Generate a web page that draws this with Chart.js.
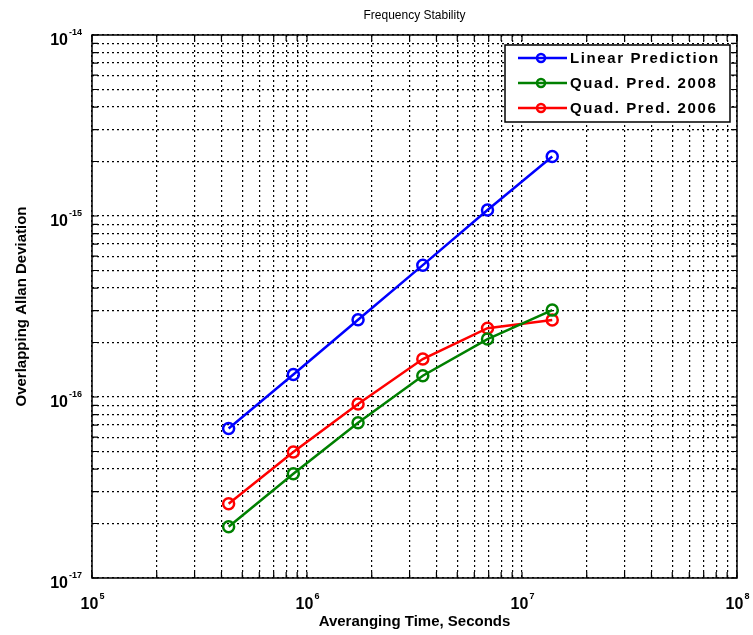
<!DOCTYPE html>
<html>
<head>
<meta charset="utf-8">
<script src="https://cdn.jsdelivr.net/npm/chart.js@4.4.1/dist/chart.umd.min.js"></script>
<style>
  html, body { margin: 0; padding: 0; background: #fff; }
  #wrap { width: 753px; height: 635px; }
</style>
</head>
<body>
<div id="wrap"><canvas id="stabilityChart" width="753" height="635"></canvas></div>
<script>
// Averaging times: 5, 10, 20, 40, 80, 160 days in seconds
const tauSeconds = [432000, 864000, 1728000, 3456000, 6912000, 13824000];

const linearPrediction = [6.7e-17, 1.33e-16, 2.67e-16, 5.35e-16, 1.08e-15, 2.13e-15];
const quadPred2008 = [1.92e-17, 3.77e-17, 7.2e-17, 1.31e-16, 2.09e-16, 3.02e-16];
const quadPred2006 = [2.57e-17, 4.97e-17, 9.15e-17, 1.62e-16, 2.4e-16, 2.66e-16];

const seriesNames = ['Linear Prediction', 'Quad. Pred. 2008', 'Quad. Pred. 2006'];
const seriesColors = ['#0000ff', '#008000', '#ff0000'];

const xDecades = [5, 6, 7, 8];
const yDecades = [-17, -16, -15, -14];

// 1..9 x 10^n ticks for every decade
function logTicks(decades) {
    const out = [];
    for (let i = 0; i < decades.length - 1; i++) {
        for (let m = 1; m < 10; m++) out.push({ value: m * Math.pow(10, decades[i]) });
    }
    out.push({ value: Math.pow(10, decades[decades.length - 1]) });
    return out;
}

function drawPow(ctx, x, y, exp, align) {
    const base = 'bold 16px "Liberation Sans", Arial, sans-serif';
    const small = 'bold 9px "Liberation Sans", Arial, sans-serif';
    ctx.font = base;
    const w1 = ctx.measureText('10').width;
    ctx.font = small;
    const es = String(exp);
    const w2 = ctx.measureText(es).width;
    let x0 = x;
    if (align === 'center') x0 = x - (w1 + w2) / 2;
    if (align === 'right') x0 = x - (w1 + w2 + 1);
    ctx.textAlign = 'left';
    ctx.textBaseline = 'alphabetic';
    ctx.font = base;
    ctx.fillText('10', x0, y);
    ctx.font = small;
    ctx.fillText(es, x0 + w1 + 1, y - 10);
}

const frame = {
    id: 'matlabFrame',
    afterDraw(chart) {
        const ctx = chart.ctx;
        const a = chart.chartArea;
        const xs = chart.scales.x, ys = chart.scales.y;
        ctx.save();
        ctx.fillStyle = '#000';
        ctx.strokeStyle = '#000';

        // border box
        ctx.lineWidth = 1.5;
        ctx.strokeRect(a.left, a.top, a.right - a.left, a.bottom - a.top);

        // inward tick marks
        ctx.lineWidth = 1.2;
        ctx.beginPath();
        xs.ticks.forEach(t => {
            const px = xs.getPixelForValue(t.value);
            ctx.moveTo(px, a.bottom); ctx.lineTo(px, a.bottom - 6);
            ctx.moveTo(px, a.top); ctx.lineTo(px, a.top + 6);
        });
        ys.ticks.forEach(t => {
            const py = ys.getPixelForValue(t.value);
            ctx.moveTo(a.left, py); ctx.lineTo(a.left + 6, py);
            ctx.moveTo(a.right, py); ctx.lineTo(a.right - 6, py);
        });
        ctx.stroke();

        // tick labels
        xDecades.forEach(d => {
            drawPow(ctx, xs.getPixelForValue(Math.pow(10, d)), a.bottom + 31, d, 'center');
        });
        yDecades.forEach(d => {
            drawPow(ctx, a.left - 10, ys.getPixelForValue(Math.pow(10, d)) + 10, d, 'right');
        });

        // title and axis titles
        ctx.textAlign = 'center';
        ctx.textBaseline = 'middle';
        ctx.font = '12px "Liberation Sans Narrow", "Liberation Sans", Arial, sans-serif';
        ctx.fillText('Frequency Stability', (a.left + a.right) / 2, 16);
        ctx.font = 'bold 15px "Liberation Sans", Arial, sans-serif';
        ctx.fillText('Averanging Time, Seconds', (a.left + a.right) / 2, 622);
        ctx.save();
        ctx.translate(22, (a.top + a.bottom) / 2);
        ctx.rotate(-Math.PI / 2);
        ctx.fillText('Overlapping Allan Deviation', 0, 0);
        ctx.restore();

        // legend box
        const bx = 505, by = 45, bw = 225, bh = 77;
        ctx.fillStyle = '#fff';
        ctx.fillRect(bx, by, bw, bh);
        ctx.lineWidth = 1.5;
        ctx.strokeRect(bx, by, bw, bh);
        seriesNames.forEach((name, i) => {
            const ly = 58 + i * 25;
            ctx.strokeStyle = seriesColors[i];
            ctx.lineWidth = 2.5;
            ctx.beginPath();
            ctx.moveTo(518, ly); ctx.lineTo(567, ly);
            ctx.stroke();
            ctx.beginPath();
            ctx.arc(541, ly, 4, 0, Math.PI * 2);
            ctx.stroke();
            ctx.fillStyle = '#000';
            ctx.font = 'bold 15px "Liberation Sans", Arial, sans-serif';
            ctx.textAlign = 'left';
            ctx.textBaseline = 'middle';
            ctx.letterSpacing = '1.6px';
            ctx.fillText(name, 570, ly + 1);
            ctx.letterSpacing = '0px';
        });
        ctx.restore();
    }
};

const gridStyle = {
    color: '#000',
    lineWidth: 1.2,
    drawTicks: false
};

new Chart(document.getElementById('stabilityChart'), {
    type: 'line',
    data: {
        datasets: [linearPrediction, quadPred2008, quadPred2006].map((vals, i) => ({
            label: seriesNames[i],
            data: tauSeconds.map((t, k) => ({ x: t, y: vals[k] })),
            borderColor: seriesColors[i],
            backgroundColor: 'rgba(0,0,0,0)',
            borderWidth: 2.5,
            pointRadius: 5.5,
            pointBorderWidth: 2.5,
            pointBackgroundColor: 'rgba(0,0,0,0)',
            pointBorderColor: seriesColors[i],
            tension: 0
        }))
    },
    options: {
        responsive: false,
        animation: false,
        layout: { padding: { left: 92, right: 16, top: 35, bottom: 57 } },
        plugins: {
            legend: { display: false },
            title: { display: false },
            tooltip: { enabled: false }
        },
        scales: {
            x: {
                type: 'logarithmic',
                min: 1e5,
                max: 1e8,
                afterBuildTicks: s => { s.ticks = logTicks(xDecades); },
                ticks: { display: false },
                grid: gridStyle,
                border: { display: false, dash: [2, 3] },
                afterFit: s => { s.height = 0; }
            },
            y: {
                type: 'logarithmic',
                min: 1e-17,
                max: 1e-14,
                afterBuildTicks: s => { s.ticks = logTicks(yDecades); },
                ticks: { display: false },
                grid: gridStyle,
                border: { display: false, dash: [2, 3] },
                afterFit: s => { s.width = 0; }
            }
        }
    },
    plugins: [frame]
});
</script>
</body>
</html>
